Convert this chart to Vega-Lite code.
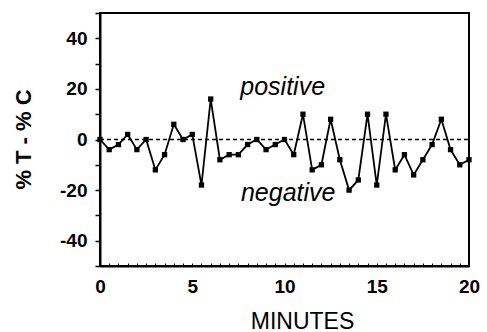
{
  "$schema": "https://vega.github.io/schema/vega-lite/v6.json",
  "autosize": {"type": "none"},
  "width": 369,
  "height": 253,
  "padding": {"left": 100, "top": 13, "right": 18, "bottom": 66},
  "background": "white",
  "config": {
    "view": {"stroke": "black", "strokeWidth": 2},
    "font": "Liberation Sans"
  },
  "datasets": {
    "series": [
      {"minutes": 0, "diff": 0}, {"minutes": 0.5, "diff": -4}, {"minutes": 1, "diff": -2},
      {"minutes": 1.5, "diff": 2}, {"minutes": 2, "diff": -4}, {"minutes": 2.5, "diff": 0},
      {"minutes": 3, "diff": -12}, {"minutes": 3.5, "diff": -6}, {"minutes": 4, "diff": 6},
      {"minutes": 4.5, "diff": 0}, {"minutes": 5, "diff": 2}, {"minutes": 5.5, "diff": -18},
      {"minutes": 6, "diff": 16}, {"minutes": 6.5, "diff": -8}, {"minutes": 7, "diff": -6},
      {"minutes": 7.5, "diff": -6}, {"minutes": 8, "diff": -2}, {"minutes": 8.5, "diff": 0},
      {"minutes": 9, "diff": -4}, {"minutes": 9.5, "diff": -2}, {"minutes": 10, "diff": 0},
      {"minutes": 10.5, "diff": -6}, {"minutes": 11, "diff": 10}, {"minutes": 11.5, "diff": -12},
      {"minutes": 12, "diff": -10}, {"minutes": 12.5, "diff": 8}, {"minutes": 13, "diff": -8},
      {"minutes": 13.5, "diff": -20}, {"minutes": 14, "diff": -16}, {"minutes": 14.5, "diff": 10},
      {"minutes": 15, "diff": -18}, {"minutes": 15.5, "diff": 10}, {"minutes": 16, "diff": -12},
      {"minutes": 16.5, "diff": -6}, {"minutes": 17, "diff": -14}, {"minutes": 17.5, "diff": -8},
      {"minutes": 18, "diff": -2}, {"minutes": 18.5, "diff": 8}, {"minutes": 19, "diff": -4},
      {"minutes": 19.5, "diff": -10}, {"minutes": 20, "diff": -8}
    ],
    "zero": [{"minutes": 0, "diff": 0}, {"minutes": 20, "diff": 0}],
    "labels": [
      {"minutes": 9.9, "diff": 17.5, "text": "positive"},
      {"minutes": 10.2, "diff": -24.5, "text": "negative"}
    ]
  },
  "encoding": {
    "x": {
      "field": "minutes", "type": "quantitative",
      "scale": {"domain": [0, 20], "nice": false, "zero": false},
      "axis": {
        "title": "MINUTES",
        "values": [0,0.5,1,1.5,2,2.5,3,3.5,4,4.5,5,5.5,6,6.5,7,7.5,8,8.5,9,9.5,10,10.5,11,11.5,12,12.5,13,13.5,14,14.5,15,15.5,16,16.5,17,17.5,18,18.5,19,19.5,20],
        "labelExpr": "datum.value % 5 === 0 ? '' + datum.value : ''",
        "grid": false,
        "domainColor": "black", "domainWidth": 2,
        "tickColor": "black", "tickWidth": 1, "tickSize": -3,
        "labelFont": "Liberation Sans", "labelFontWeight": "bold", "labelFontSize": 19,
        "labelColor": "black", "labelPadding": 14, "labelFlush": false,
        "titleFont": "Liberation Sans", "titleFontWeight": "normal", "titleFontSize": 23,
        "titleColor": "black", "titleX": 202, "titleY": 62, "titleAlign": "center",
        "titleBaseline": "alphabetic"
      }
    },
    "y": {
      "field": "diff", "type": "quantitative",
      "scale": {"domain": [-50, 50], "nice": false},
      "axis": {
        "title": "% T - % C",
        "values": [-50,-40,-30,-20,-10,0,10,20,30,40,50],
        "labelExpr": "datum.value % 20 === 0 ? '' + datum.value : ''",
        "grid": false,
        "domainColor": "black", "domainWidth": 2,
        "tickColor": "black", "tickWidth": 1.5, "tickSize": 5,
        "labelFont": "Liberation Sans", "labelFontWeight": "bold", "labelFontSize": 19,
        "labelColor": "black", "labelPadding": 8,
        "titleFont": "Liberation Sans", "titleFontWeight": "bold", "titleFontSize": 22,
        "titleColor": "black", "titleX": -70, "titleY": 126, "titleAlign": "center",
        "titleBaseline": "alphabetic", "titleAngle": -90
      }
    }
  },
  "layer": [
    {
      "data": {"name": "zero"},
      "mark": {"type": "line", "color": "black", "strokeWidth": 1.5, "strokeDash": [4, 3]}
    },
    {
      "data": {"name": "series"},
      "mark": {"type": "line", "color": "black", "strokeWidth": 1.8}
    },
    {
      "data": {"name": "series"},
      "mark": {"type": "point", "shape": "square", "filled": true, "color": "black", "size": 28, "opacity": 1}
    },
    {
      "data": {"name": "labels"},
      "mark": {"type": "text", "font": "Liberation Sans", "fontStyle": "italic", "fontSize": 25, "color": "black", "align": "center", "baseline": "alphabetic"},
      "encoding": {"text": {"field": "text"}}
    }
  ]
}
